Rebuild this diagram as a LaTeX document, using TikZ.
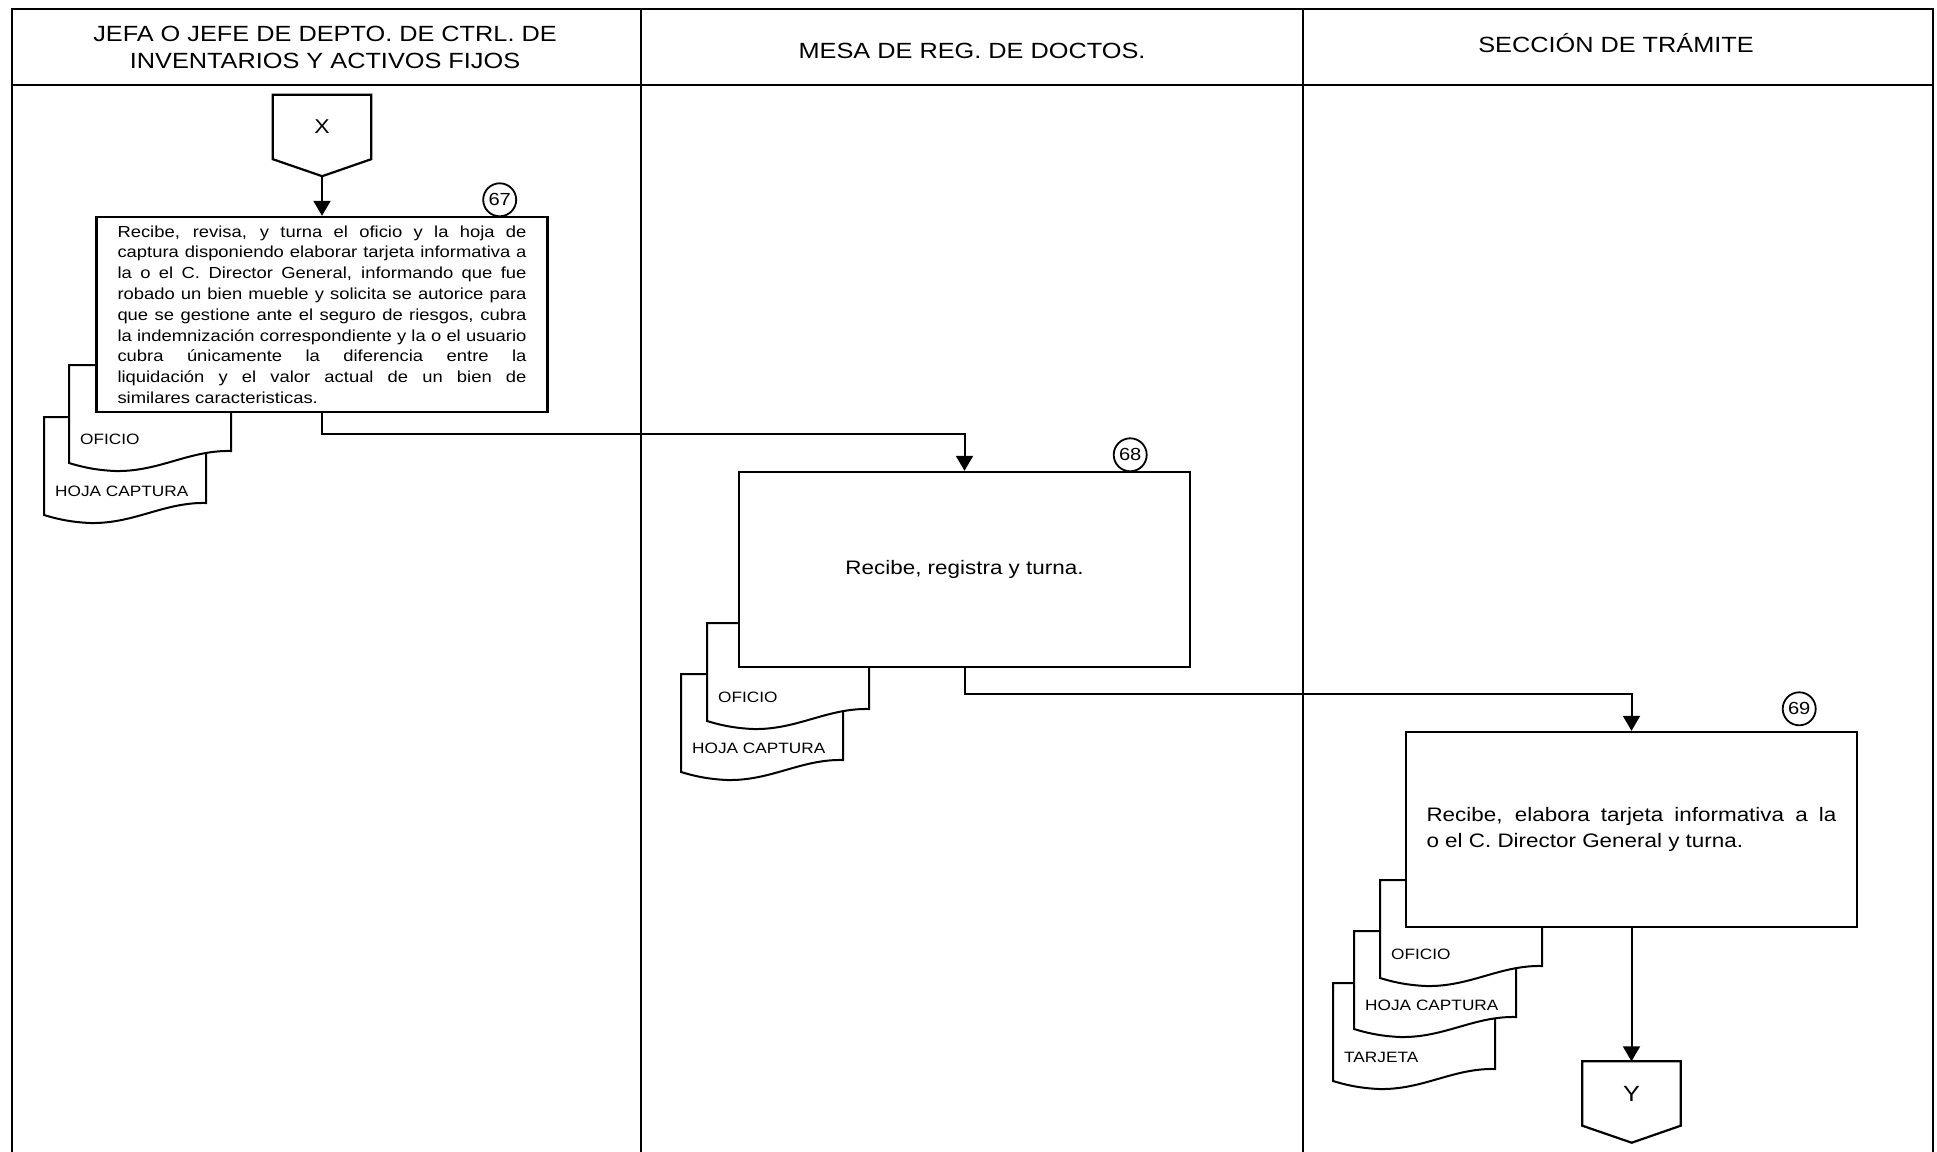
\documentclass[tikz,border=0pt]{standalone}
\usepackage{fontspec}
\setmainfont{Liberation Sans}[FakeStretch=1.15]
\usepackage{tikz}
\usetikzlibrary{arrows.meta, positioning}

\begin{document}
\begin{tikzpicture}[x=1pt, y=-1pt, on grid,
        >={Triangle[width=17pt,length=15pt]},
        lane/.style={line width=2.6pt},
        flow/.style={->, line width=2pt},
        head/.style={align=center, font=\fontsize{22}{27}\selectfont},
        task/.style={draw, line width=2.4pt, fill=white, minimum width=451pt, minimum height=195pt, inner sep=0pt},
        stepno/.style={draw, circle, line width=1.8pt, minimum size=33pt, inner sep=0pt, font=\fontsize{17.5}{17.5}\selectfont},
        doclabel/.style={inner sep=0pt, font=\fontsize{15}{16}\selectfont},
        offpage/.style={minimum width=98pt, minimum height=64pt, inner sep=0pt,
            append after command={\pgfextra{\draw[line width=2.2pt] (\tikzlastnode.south west) -- (\tikzlastnode.north west)
                -- (\tikzlastnode.north east) -- (\tikzlastnode.south east) -- ++(-49,17) -- cycle;}}},
        pics/docsheet/.style={code={
            \draw[line width=2pt, fill=white] (0,0) -- (162,0) -- (162,86)
                .. controls (120,85) and (90,107) .. (46,106)
                .. controls (24,105) and (10,101) .. (0,98) -- cycle;
            \node[doclabel, anchor=west] (-txt) at (11,74) {#1};
        }}]
        \useasboundingbox (0,0) rectangle (1937,1151);

        \draw[lane] (12,9) rectangle (1933,1170);
        \draw[lane] (12,85) -- (1933,85);
        \draw[lane] (641,9) -- (641,1170);
        \draw[lane] (1303,9) -- (1303,1170);

        \node[head] (h1) at (325,47) {JEFA O JEFE DE DEPTO. DE CTRL. DE\\INVENTARIOS Y ACTIVOS FIJOS};
        \node[head] (h2) at (972,51) {MESA DE REG. DE DOCTOS.};
        \node[head] (h3) at (1616,43) {SECCIÓN DE TRÁMITE};

        \pic (d1b) at (44,417) {docsheet=HOJA CAPTURA};
        \pic (d1a) at (69,365) {docsheet=OFICIO};
        \pic (d2b) at (681,674) {docsheet=HOJA CAPTURA};
        \pic (d2a) at (707,623) {docsheet=OFICIO};
        \pic (d3c) at (1333,983) {docsheet=TARJETA};
        \pic (d3b) at (1354,931) {docsheet=HOJA CAPTURA};
        \pic (d3a) at (1380,880) {docsheet=OFICIO};

        \node[offpage, font=\fontsize{20}{20}\selectfont] (xcon) at (322,127) {X};
        \node[task, text width=409pt, align=justify, font=\fontsize{16}{20.8}\selectfont] (b67) [below=187.5pt of xcon]
            {Recibe, revisa, y turna el oficio y la hoja de\linebreak
             captura disponiendo elaborar tarjeta informativa a\linebreak
             la o el C. Director General, informando que fue\linebreak
             robado un bien mueble y solicita se autorice para\linebreak
             que se gestione ante el seguro de riesgos, cubra\linebreak
             la indemnización correspondiente y la o el usuario\linebreak
             cubra únicamente la diferencia entre la\linebreak
             liquidación y el valor actual de un bien de\linebreak
             similares caracteristicas.};
        \node[task, font=\fontsize{19.5}{24}\selectfont] (b68) [below right=255pt and 642.5pt of b67] {Recibe, registra y turna.};
        \node[task, text width=410pt, align=justify, font=\fontsize{19.5}{26.7}\selectfont] (b69) [below right=260pt and 667pt of b68]
            {Recibe, elabora tarjeta informativa a la\linebreak
             o el C. Director General y turna.};
        \node[offpage, font=\fontsize{22}{22}\selectfont] (ycon) [below=264pt of b69] {Y};

        \node[stepno] (n67) at ([xshift=-49pt, yshift=16pt]b67.north east) {67};
        \node[stepno] (n68) at ([xshift=-61pt, yshift=16pt]b68.north east) {68};
        \node[stepno] (n69) at ([xshift=-59pt, yshift=22pt]b69.north east) {69};

        \draw[flow] ([yshift=-17pt]xcon.south) -- (xcon.south |- b67.north);
        \draw[flow] (b67.south) -- ++(0,21) -| (b68.north);
        \draw[flow] (b68.south) -- ++(0,26) -| (b69.north);
        \draw[flow] (b69.south) -- (b69.south |- ycon.north);

    \end{tikzpicture}
\end{document}
